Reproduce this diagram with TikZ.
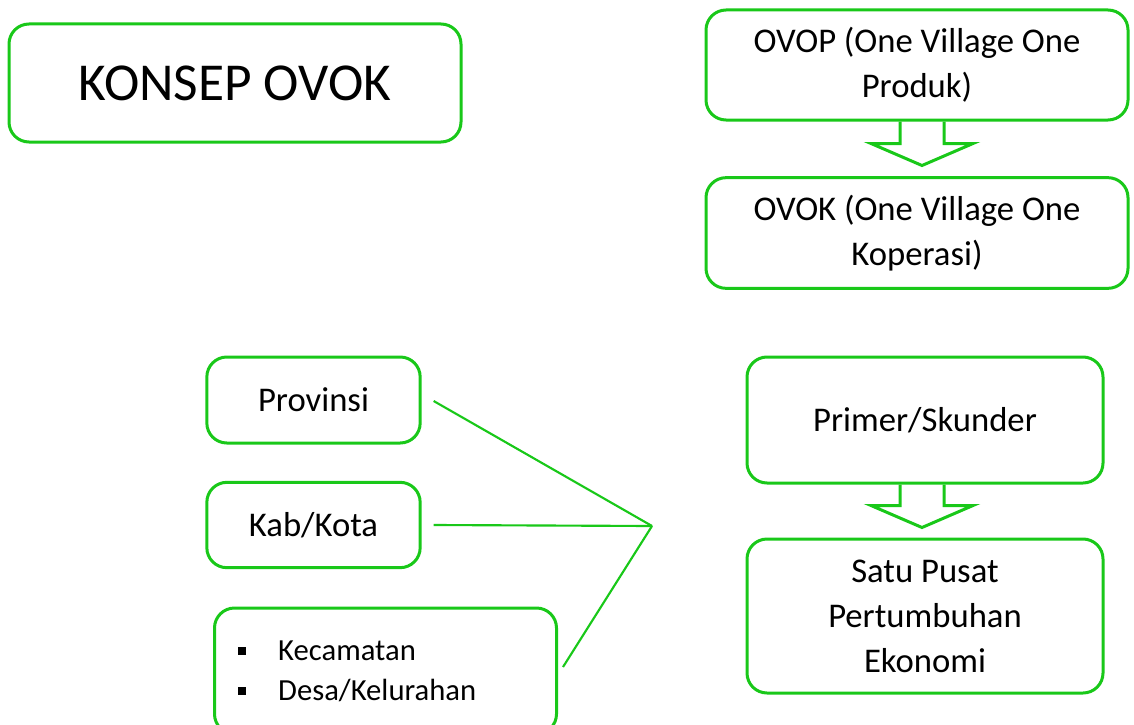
\documentclass[tikz,border=0pt]{standalone}
\usepackage{fontspec}
\setmainfont{Carlito}
\usetikzlibrary{arrows}
\definecolor{ovokgreen}{RGB}{25,200,25}

\begin{document}
\begin{tikzpicture}[x=0.75pt,y=0.75pt,yscale=-1,xscale=1,
  greenbox/.style={draw=ovokgreen, line width=2.25pt, rounded corners=15pt, align=center, inner sep=0pt, font=\fontsize{26}{33.75}\selectfont},
  greenlink/.style={draw=ovokgreen, line width=1.6pt},
  blockarrow/.style={draw=ovokgreen, line width=2.25pt, line join=miter}]
%set diagram to 1134 x 724
\useasboundingbox (0,0) rectangle (1134,724);
\clip (0,0) rectangle (1134,724);

%Shape: Rounded Rectangle [title]
\node [greenbox, minimum width=339pt, minimum height=88.5pt, font=\fontsize{40}{48}\selectfont] (konsep) at (235,83) {KONSEP OVOK};
%Shape: Rounded Rectangle [ovop]
\node [greenbox, minimum width=316.5pt, minimum height=82.5pt] (ovop) at (917,65) {OVOP (One Village One\\Produk)};
%Shape: Rounded Rectangle [ovok]
\node [greenbox, minimum width=316.5pt, minimum height=83pt] (ovok) at (917,233) {OVOK (One Village One\\Koperasi)};
%Shape: Rounded Rectangle [provinsi]
\node [greenbox, minimum width=160pt, minimum height=64.5pt] (prov) at (313.5,400) {Provinsi};
%Shape: Rounded Rectangle [kab/kota]
\node [greenbox, minimum width=160pt, minimum height=64pt] (kab) at (313.5,525) {Kab/Kota};
%Shape: Rounded Rectangle [kecamatan, desa]
\node [greenbox, minimum height=94.5pt, text width=222pt, inner xsep=17.25pt, align=left, font=\fontsize{23}{30}\selectfont] (kec) at (385.5,671)
  {\makebox[30.5pt][l]{\rule[4pt]{6pt}{6pt}}Kecamatan\\\makebox[30.5pt][l]{\rule[4pt]{6pt}{6pt}}Desa/Kelurahan};
%Shape: Rounded Rectangle [primer]
\node [greenbox, minimum width=267pt, minimum height=94.5pt] (primer) at (925,420) {Primer/Skunder};
%Shape: Rounded Rectangle [pusat]
\node [greenbox, minimum width=267pt, minimum height=115.5pt] (satu) at (925,616) {Satu Pusat\\Pertumbuhan\\Ekonomi};

%Block Arrows
\draw [blockarrow] (ovop.south) ++(-17,0) -- ++(0,22) -- ++(-29,0) -- ++(51,22) -- ++(51,-22) -- ++(-29,0) -- ++(0,-22) ;
\draw [blockarrow] (primer.south) ++(-25,0) -- ++(0,21) -- ++(-29,0) -- ++(51,22) -- ++(51,-22) -- ++(-29,0) -- ++(0,-21) ;

%Straight Lines
\coordinate (hub) at (652,526);
\draw [greenlink] (prov.east) ++(12,1) -- (hub);
\draw [greenlink] (kab.east) ++(12,0) -- (hub);
\draw [greenlink] (kec.east) ++(5,-4) -- (hub);

\end{tikzpicture}
\end{document}
